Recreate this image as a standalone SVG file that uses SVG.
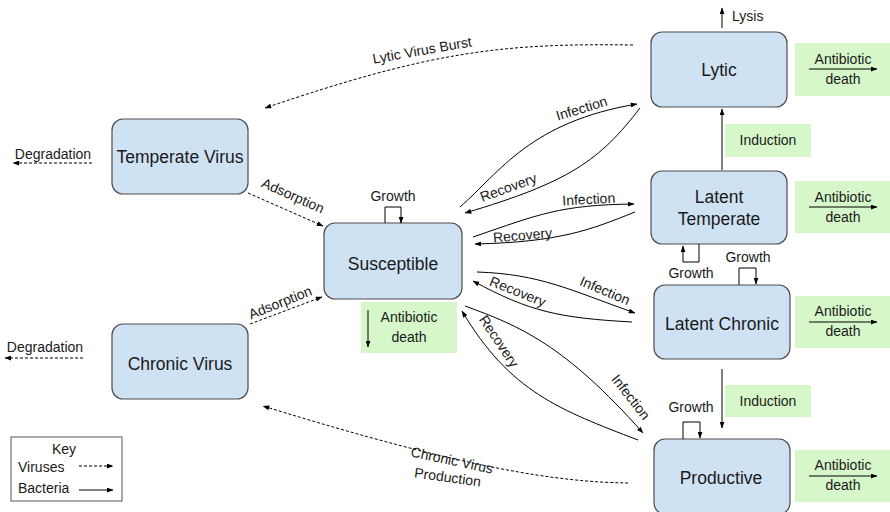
<svg xmlns="http://www.w3.org/2000/svg" width="890" height="512" viewBox="0 0 890 512">
<defs>
<marker id="ah" viewBox="0 0 8 6" refX="7.5" refY="3" markerWidth="7" markerHeight="5" markerUnits="userSpaceOnUse" orient="auto">
<path d="M0,0 L8,3 L0,6 z" fill="#000"/>
</marker>
<style>
.node{fill:#cfe2f3;stroke:#4d4d4d;stroke-width:1.2}
.nt{font-family:"Liberation Sans",Arial,sans-serif;font-size:17.5px;fill:#1a1a1a;text-anchor:middle}
.lt{font-family:"Liberation Sans",Arial,sans-serif;font-size:14px;fill:#1a1a1a;text-anchor:middle}
.ls{font-family:"Liberation Sans",Arial,sans-serif;font-size:14px;fill:#1a1a1a}
.green{fill:#d6f7c9}
.b{fill:none;stroke:#000;stroke-width:1;marker-end:url(#ah)}
.v{fill:none;stroke:#000;stroke-width:1;stroke-dasharray:3,2;marker-end:url(#ah)}
</style>
</defs>
<rect width="890" height="512" fill="#fff"/>

<g id="green-boxes">
<rect class="green" x="795" y="43" width="95" height="53"/>
<rect class="green" x="725" y="124" width="86" height="33"/>
<rect class="green" x="795" y="181" width="95" height="52"/>
<rect class="green" x="795" y="296" width="95" height="52"/>
<rect class="green" x="725" y="385" width="86" height="32"/>
<rect class="green" x="795" y="450" width="95" height="52"/>
<rect class="green" x="361" y="302" width="96" height="51"/>
</g>

<g id="node-lytic"><rect class="node" x="651" y="32" width="136" height="75" rx="11"/><text class="nt" x="719" y="76">Lytic</text></g>
<g id="node-latent-temperate"><rect class="node" x="651" y="171" width="136" height="73" rx="11"/><text class="nt" x="719" y="203">Latent</text><text class="nt" x="719" y="225">Temperate</text></g>
<g id="node-latent-chronic"><rect class="node" x="654" y="285" width="136" height="74" rx="11"/><text class="nt" x="722" y="330">Latent Chronic</text></g>
<g id="node-productive"><rect class="node" x="654" y="439" width="136" height="75" rx="11"/><text class="nt" x="721" y="484">Productive</text></g>
<g id="node-temperate-virus"><rect class="node" x="112" y="119" width="136" height="75" rx="11"/><text class="nt" x="180" y="163">Temperate Virus</text></g>
<g id="node-chronic-virus"><rect class="node" x="112" y="324" width="136" height="75" rx="11"/><text class="nt" x="180" y="370">Chronic Virus</text></g>
<g id="node-susceptible"><rect class="node" x="324" y="223" width="138" height="76" rx="11"/><text class="nt" x="393" y="270">Susceptible</text></g>

<g id="connectors">
<path class="v" d="M633,45 C 500,43 430,52 265,108"/>
<path class="v" d="M628,483 C 560,482 470,470 263,406"/>
<path class="v" d="M92,163 H13"/>
<path class="v" d="M83,358 H5"/>
<path class="v" d="M248,193 L323,226"/>
<path class="v" d="M250,324 L322,297"/>
<path class="b" d="M460,207 C 500,172 530,122 637,104"/>
<path class="b" d="M640,108 C 600,160 570,182 465,213"/>
<path class="b" d="M473,237 C 540,214 560,205 634,204"/>
<path class="b" d="M635,212 C 590,230 560,242 475,244"/>
<path class="b" d="M477,272 C 540,274 570,290 635,313"/>
<path class="b" d="M632,322 C 560,318 530,312 473,281"/>
<path class="b" d="M465,306 C 520,326 565,345 643,433"/>
<path class="b" d="M638,440 C 560,410 510,392 462,311"/>
<path class="b" d="M722,170 V109"/>
<path class="b" d="M722,28 V8"/>
<path class="b" d="M722,369 V428"/>
<path class="b" d="M385,223 V207 H401 V223"/>
<path class="b" d="M699,244 V262 H683 V246"/>
<path class="b" d="M739,285 V268 H756 V284"/>
<path class="b" d="M683,439 V422 H700 V438"/>
<path class="b" d="M368,310 V347"/>
<path class="b" d="M809,69 H877"/>
<path class="b" d="M809,207 H877"/>
<path class="b" d="M809,322 H877"/>
<path class="b" d="M809,476 H877"/>
</g>

<g id="labels">
<text class="lt" x="423" y="55" transform="rotate(-10 423 55)">Lytic Virus Burst</text>
<text class="lt" x="451" y="465" transform="rotate(12 451 465)">Chronic Virus</text>
<text class="lt" x="447" y="482" transform="rotate(8 447 482)">Production</text>
<text class="lt" x="53" y="159">Degradation</text>
<text class="lt" x="45" y="352">Degradation</text>
<text class="lt" x="291" y="200" transform="rotate(24 291 200)">Adsorption</text>
<text class="lt" x="282" y="307" transform="rotate(-22 282 307)">Adsorption</text>
<text class="lt" x="583" y="113" transform="rotate(-17 583 113)">Infection</text>
<text class="lt" x="510" y="192" transform="rotate(-20 510 192)">Recovery</text>
<text class="lt" x="589" y="204" transform="rotate(-3 589 204)">Infection</text>
<text class="lt" x="523" y="240" transform="rotate(-5 523 240)">Recovery</text>
<text class="lt" x="603" y="295" transform="rotate(23 603 295)">Infection</text>
<text class="lt" x="516" y="296" transform="rotate(22 516 296)">Recovery</text>
<text class="lt" x="627" y="400" transform="rotate(52 627 400)">Infection</text>
<text class="lt" x="495" y="344" transform="rotate(56 495 344)">Recovery</text>
<text class="ls" x="732" y="21">Lysis</text>
<text class="lt" x="768" y="145">Induction</text>
<text class="lt" x="768" y="406">Induction</text>
<text class="lt" x="393" y="201">Growth</text>
<text class="lt" x="691" y="278">Growth</text>
<text class="lt" x="748" y="262">Growth</text>
<text class="lt" x="691" y="412">Growth</text>
<text class="lt" x="843" y="64">Antibiotic</text>
<text class="lt" x="843" y="84">death</text>
<text class="lt" x="843" y="202">Antibiotic</text>
<text class="lt" x="843" y="222">death</text>
<text class="lt" x="843" y="316">Antibiotic</text>
<text class="lt" x="843" y="336">death</text>
<text class="lt" x="843" y="470">Antibiotic</text>
<text class="lt" x="843" y="490">death</text>
<text class="lt" x="409" y="322">Antibiotic</text>
<text class="lt" x="409" y="342">death</text>
</g>

<g id="key">
<rect x="11" y="437" width="111" height="64" fill="#fff" stroke="#555" stroke-width="1"/>
<text class="lt" x="64" y="454">Key</text>
<text class="ls" x="18" y="472">Viruses</text>
<text class="ls" x="18" y="493">Bacteria</text>
<path class="v" d="M79,466 H113"/>
<path class="b" d="M79,490 H113"/>
</g>
</svg>
